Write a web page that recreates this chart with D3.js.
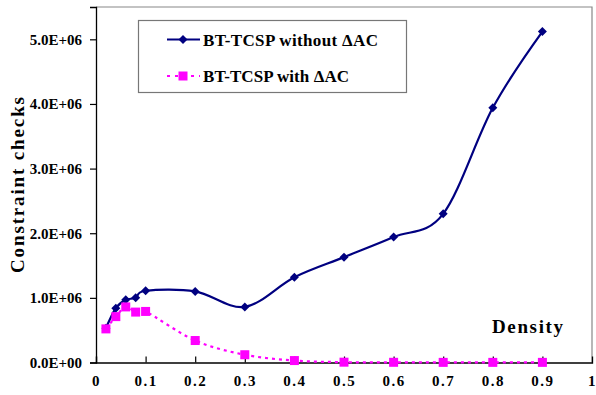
<!DOCTYPE html>
<html>
<head>
<meta charset="utf-8">
<script src="https://cdn.jsdelivr.net/npm/d3@7"></script>
<style>
  body { margin: 0; background: #fff; }
  text { font-family: "Liberation Serif", "DejaVu Serif", serif; font-weight: bold; fill: #000; }
</style>
</head>
<body>
<div id="chart"></div>
<script>
// chart data
var density = [0.02, 0.04, 0.06, 0.08, 0.1, 0.2, 0.3, 0.4, 0.5, 0.6, 0.7, 0.8, 0.9];
var withoutAC = [530000, 840000, 970000, 1000000, 1110000, 1100000, 860000, 1320000, 1630000, 1940000, 2300000, 3940000, 5120000];
var withAC = [520000, 710000, 860000, 780000, 790000, 340000, 120000, 30000, 5000, 3000, 2000, 2000, 2000];
var xTicks = [0, 0.1, 0.2, 0.3, 0.4, 0.5, 0.6, 0.7, 0.8, 0.9, 1];
var yTicks = [0, 1000000, 2000000, 3000000, 4000000, 5000000];
var seriesNames = ["BT-TCSP without \u0394AC", "BT-TCSP with \u0394AC"];

var svgWidth = 596;
var svgHeight = 395;
var margin = { top: 7, right: 4, bottom: 32.5, left: 96 };
var width = svgWidth - margin.left - margin.right;
var height = svgHeight - margin.top - margin.bottom;

var svg = d3.select("#chart")
    .append("svg")
    .attr("width", svgWidth)
    .attr("height", svgHeight);

var chartGroup = svg.append("g")
    .attr("transform", `translate(${margin.left}, ${margin.top})`);

var x = d3.scaleLinear().domain([0, 1]).range([0, width]);
var y = d3.scaleLinear().domain([0, 5500000]).range([height, 0]);

// plot frame (gray top/right)
chartGroup.append("path")
    .attr("d", `M0,0H${width}V${height}`)
    .attr("fill", "none")
    .attr("stroke", "#888")
    .attr("stroke-width", 1.2);

// axes
var yAxis = chartGroup.append("g")
    .call(d3.axisLeft(y)
        .tickValues(yTicks)
        .tickSize(6)
        .tickPadding(8)
        .tickFormat(d => d === 0 ? "0.0E+00" : (d / 1e6).toFixed(1) + "E+06"));
var xAxis = chartGroup.append("g")
    .attr("transform", `translate(0, ${height})`)
    .call(d3.axisBottom(x)
        .tickValues(xTicks)
        .tickSize(-6)
        .tickPadding(13)
        .tickFormat(d => d === 0 ? "0" : d === 1 ? "1" : d3.format(".1f")(d)));

[xAxis, yAxis].forEach(function(ax) {
    ax.select(".domain").attr("stroke", "#000").attr("stroke-width", 1.3);
    ax.selectAll(".tick line").attr("stroke", "#000").attr("stroke-width", 1.2);
    ax.selectAll("text").style("font-size", "15px");
});
xAxis.selectAll("text").style("letter-spacing", "1.5px");
xAxis.selectAll(".tick").filter(d => d === 1).select("line").remove();

// lines
var smoothLine = d3.line()
    .x((d, i) => x(density[i]))
    .y(d => y(d))
    .curve(d3.curveCardinal.tension(0));

chartGroup.append("path")
    .datum(withAC)
    .attr("d", smoothLine)
    .attr("fill", "none")
    .attr("stroke", "#ff00ff")
    .attr("stroke-width", 2.2)
    .attr("stroke-dasharray", "3,4");

chartGroup.append("path")
    .datum(withoutAC)
    .attr("d", smoothLine)
    .attr("fill", "none")
    .attr("stroke", "#000080")
    .attr("stroke-width", 2.2);

chartGroup.selectAll(".diamond")
    .data(withoutAC)
    .enter()
    .append("path")
    .attr("class", "diamond")
    .attr("transform", (d, i) => `translate(${x(density[i])}, ${y(d)})`)
    .attr("d", "M0,-4.5L4.5,0L0,4.5L-4.5,0Z")
    .attr("fill", "#000080");

chartGroup.selectAll(".square")
    .data(withAC)
    .enter()
    .append("rect")
    .attr("class", "square")
    .attr("x", (d, i) => x(density[i]) - 4.5)
    .attr("y", d => y(d) - 4.5)
    .attr("width", 9)
    .attr("height", 9)
    .attr("fill", "#ff00ff");

// legend
var legend = svg.append("g");
legend.append("rect")
    .attr("x", 138.5)
    .attr("y", 20.5)
    .attr("width", 268)
    .attr("height", 72)
    .attr("fill", "#fff")
    .attr("stroke", "#777")
    .attr("stroke-width", 1.2);

legend.append("line")
    .attr("x1", 167).attr("x2", 200)
    .attr("y1", 39.5).attr("y2", 39.5)
    .attr("stroke", "#000080").attr("stroke-width", 2.2);
legend.append("path")
    .attr("transform", "translate(183, 39.5)")
    .attr("d", "M0,-4.5L4.5,0L0,4.5L-4.5,0Z")
    .attr("fill", "#000080");
legend.append("line")
    .attr("x1", 167).attr("x2", 200)
    .attr("y1", 76).attr("y2", 76)
    .attr("stroke", "#ff00ff").attr("stroke-width", 2.2)
    .attr("stroke-dasharray", "3,5");
legend.append("rect")
    .attr("x", 178.5).attr("y", 71.5)
    .attr("width", 9).attr("height", 9)
    .attr("fill", "#ff00ff");

legend.selectAll(".legtext")
    .data(seriesNames)
    .enter()
    .append("text")
    .attr("x", 203)
    .attr("y", (d, i) => i === 0 ? 45.5 : 82)
    .attr("textLength", (d, i) => i === 0 ? 175 : 146)
    .attr("lengthAdjust", "spacing")
    .style("font-size", "17px")
    .text(d => d);

// axis titles
svg.append("text")
    .attr("transform", "translate(24, 185) rotate(-90)")
    .attr("text-anchor", "middle")
    .attr("textLength", 176)
    .attr("lengthAdjust", "spacing")
    .style("font-size", "19px")
    .text("Constraint checks");

svg.append("text")
    .attr("x", 492)
    .attr("y", 333)
    .attr("textLength", 71)
    .attr("lengthAdjust", "spacing")
    .style("font-size", "19px")
    .text("Density");
</script>
</body>
</html>
